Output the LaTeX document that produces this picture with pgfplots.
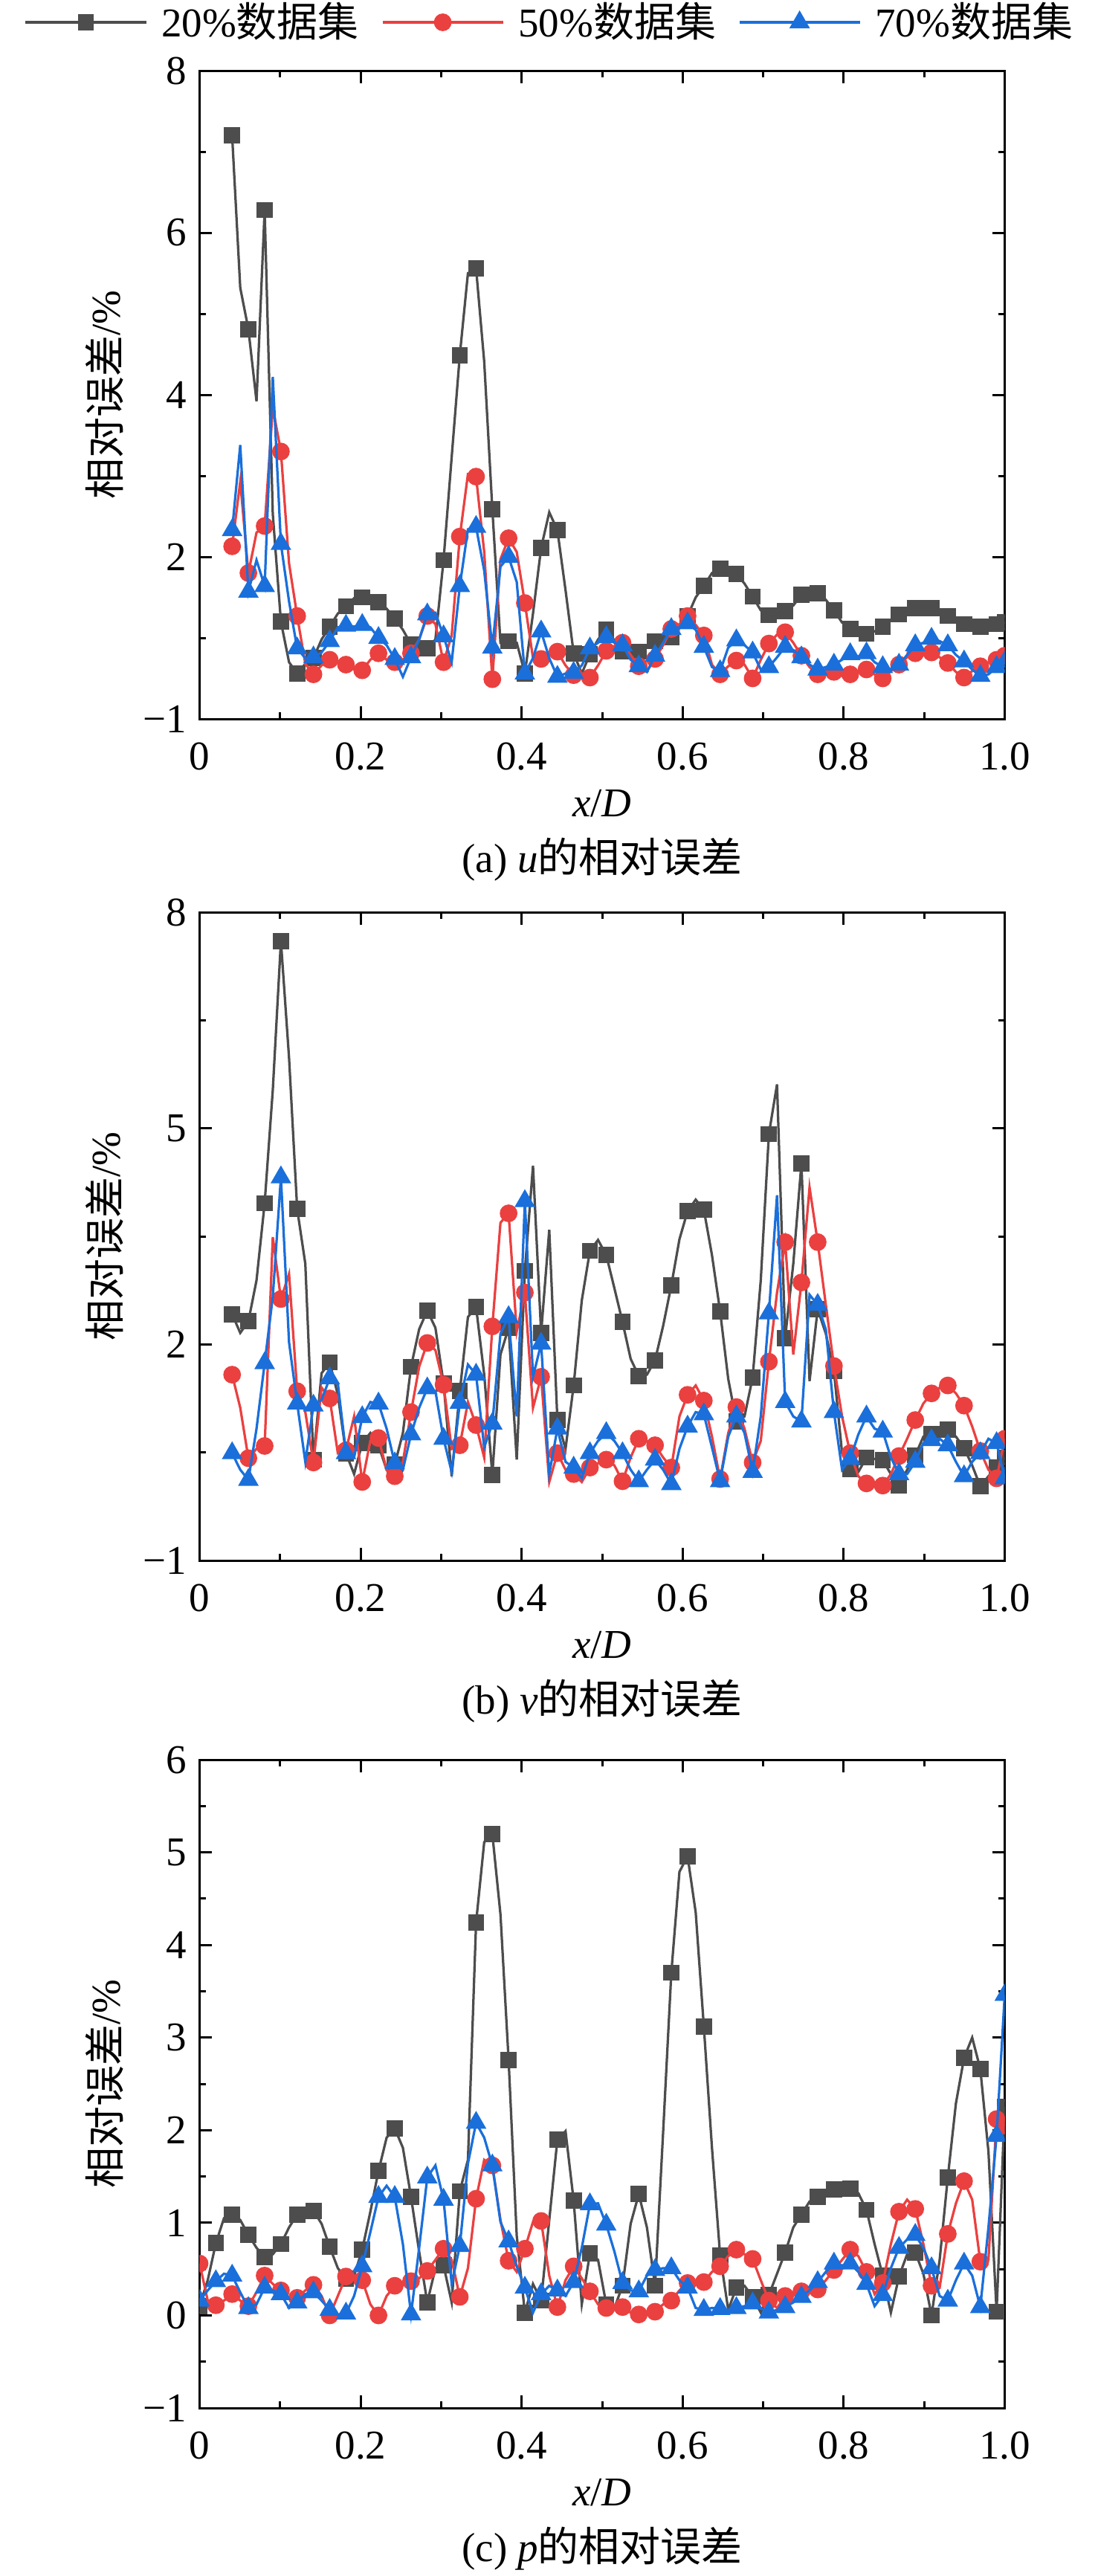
\documentclass[border=0pt]{standalone}
\usepackage{fontspec}
\setmainfont{Liberation Serif}
\newfontfamily\cjk{Noto Sans CJK SC}
\usepackage{pgfplots}
\pgfplotsset{compat=1.18}
\usepackage{pgfplotstable}

\definecolor{cg}{RGB}{77,77,77}
\definecolor{cr}{RGB}{235,64,64}
\definecolor{cb}{RGB}{26,111,219}
\newcommand{\myfont}{\fontsize{11}{13}\selectfont}
\newcommand{\tn}[1]{\textnormal{#1}}

% plot (a): u
\pgfplotstableread{
x g r b
0.0404 7.20 2.13 2.33
0.0505 5.32 2.93 3.38
0.0606 4.81 1.80 1.57
0.0707 3.92 2.30 1.96
0.0808 6.28 2.38 1.64
0.0909 2.53 3.84 4.22
0.1010 1.20 3.30 2.16
0.1111 0.70 1.92 1.45
0.1212 0.56 1.27 0.87
0.1313 0.68 0.68 0.75
0.1414 0.75 0.55 0.76
0.1515 0.98 0.66 0.82
0.1616 1.14 0.73 0.96
0.1717 1.30 0.70 1.13
0.1818 1.39 0.67 1.15
0.1919 1.49 0.61 1.14
0.2020 1.50 0.60 1.16
0.2121 1.48 0.73 1.13
0.2222 1.44 0.81 1.00
0.2323 1.36 0.73 0.91
0.2424 1.24 0.70 0.74
0.2525 1.10 0.73 0.52
0.2626 0.92 0.81 0.76
0.2727 0.91 0.98 0.98
0.2828 0.87 1.27 1.29
0.2929 0.98 1.17 1.31
0.3030 1.96 0.70 1.02
0.3131 3.23 1.03 0.70
0.3232 4.49 2.25 1.64
0.3333 5.50 3.02 2.34
0.3434 5.56 2.99 2.37
0.3535 4.41 2.06 1.83
0.3636 2.59 0.49 0.88
0.3737 0.94 1.97 1.88
0.3838 0.96 2.23 2.00
0.3939 0.94 2.06 1.69
0.4040 0.56 1.43 0.56
0.4141 1.30 0.75 0.75
0.4242 2.11 0.74 1.08
0.4343 2.55 0.82 0.75
0.4444 2.33 0.83 0.52
0.4545 1.59 0.66 0.56
0.4646 0.81 0.54 0.57
0.4747 0.56 0.56 0.66
0.4848 0.80 0.51 0.87
0.4949 0.98 0.66 0.94
0.5051 1.10 0.84 1.01
0.5152 0.97 0.90 0.94
0.5253 0.83 0.94 0.91
0.5354 0.83 0.79 0.73
0.5455 0.83 0.65 0.65
0.5556 0.90 0.59 0.58
0.5657 0.96 0.74 0.78
0.5758 0.98 0.91 0.94
0.5859 1.01 1.11 1.11
0.5960 1.12 1.17 1.13
0.6061 1.27 1.27 1.18
0.6162 1.50 1.16 1.10
0.6263 1.64 1.03 0.89
0.6364 1.80 0.67 0.64
0.6465 1.85 0.55 0.59
0.6566 1.86 0.65 0.88
0.6667 1.79 0.72 0.97
0.6768 1.67 0.67 0.91
0.6869 1.51 0.50 0.82
0.6970 1.34 0.73 0.61
0.7071 1.28 0.93 0.64
0.7172 1.28 1.04 0.76
0.7273 1.33 1.07 0.89
0.7374 1.40 0.94 0.85
0.7475 1.53 0.78 0.76
0.7576 1.57 0.64 0.67
0.7677 1.55 0.55 0.61
0.7778 1.47 0.58 0.64
0.7879 1.34 0.58 0.67
0.7980 1.19 0.53 0.73
0.8081 1.11 0.55 0.80
0.8182 1.07 0.59 0.77
0.8283 1.05 0.61 0.81
0.8384 1.08 0.55 0.70
0.8485 1.14 0.50 0.64
0.8586 1.22 0.59 0.61
0.8687 1.29 0.67 0.67
0.8788 1.34 0.76 0.79
0.8889 1.37 0.81 0.91
0.8990 1.38 0.84 0.94
0.9091 1.37 0.82 0.99
0.9192 1.32 0.76 0.96
0.9293 1.27 0.69 0.91
0.9394 1.21 0.58 0.79
0.9495 1.17 0.51 0.71
0.9596 1.15 0.59 0.61
0.9697 1.14 0.65 0.53
0.9798 1.14 0.70 0.55
0.9899 1.17 0.73 0.64
1.0000 1.19 0.78 0.70
}\dataA

% plot (b): v
\pgfplotstableread{
x g r b
0.0404 2.42 1.58 0.49
0.0505 2.16 1.12 0.26
0.0606 2.32 0.42 0.12
0.0707 2.89 0.55 0.83
0.0808 3.96 0.59 1.74
0.0909 5.53 3.49 2.66
0.1010 7.60 2.63 4.32
0.1111 5.98 2.98 2.03
0.1212 3.88 1.35 1.18
0.1313 3.12 1.06 0.37
0.1414 0.40 0.36 1.15
0.1515 1.60 1.40 1.23
0.1616 1.75 1.25 1.53
0.1717 1.30 0.49 1.46
0.1818 0.49 0.53 0.49
0.1919 0.20 1.00 0.43
0.2020 0.63 0.09 0.99
0.2121 0.77 0.66 1.20
0.2222 0.60 0.70 1.18
0.2323 0.26 0.26 0.83
0.2424 0.33 0.17 0.35
0.2525 0.77 0.37 0.26
0.2626 1.69 1.06 0.75
0.2727 2.21 1.69 1.12
0.2828 2.47 2.02 1.39
0.2929 2.23 1.92 1.35
0.3030 1.46 1.44 0.69
0.3131 0.17 0.55 0.23
0.3232 1.35 0.60 1.19
0.3333 2.38 1.20 1.72
0.3434 2.52 0.88 1.58
0.3535 1.58 0.43 0.57
0.3636 0.19 2.25 0.90
0.3737 1.86 3.69 2.15
0.3838 2.23 3.82 2.38
0.3939 0.40 2.18 1.00
0.4040 3.02 2.72 3.99
0.4141 4.48 1.12 1.55
0.4242 2.16 1.55 2.01
0.4343 3.59 0.09 0.20
0.4444 0.95 0.49 0.83
0.4545 0.55 0.26 0.37
0.4646 1.43 0.20 0.29
0.4747 2.61 0.09 0.14
0.4848 3.30 0.29 0.49
0.4949 3.45 0.35 0.66
0.5051 3.24 0.40 0.77
0.5152 2.78 0.32 0.66
0.5253 2.31 0.10 0.49
0.5354 1.80 0.43 0.26
0.5455 1.56 0.69 0.10
0.5556 1.58 0.66 0.26
0.5657 1.78 0.60 0.40
0.5758 2.26 0.43 0.26
0.5859 2.82 0.29 0.06
0.5960 3.46 1.00 0.55
0.6061 3.85 1.30 0.86
0.6162 4.01 1.43 1.06
0.6263 3.87 1.22 1.03
0.6364 3.24 0.72 0.57
0.6465 2.46 0.13 0.10
0.6566 1.52 0.77 0.72
0.6667 0.93 1.13 1.00
0.6768 1.00 0.83 0.77
0.6869 1.54 0.36 0.23
0.6970 2.89 0.66 1.00
0.7071 4.92 1.76 2.43
0.7172 5.61 2.72 4.07
0.7273 2.09 3.42 1.20
0.7374 3.12 1.86 1.00
0.7475 4.51 2.86 0.93
0.7576 1.49 4.18 2.69
0.7677 2.49 3.42 2.55
0.7778 2.15 2.55 2.21
0.7879 1.63 1.70 1.06
0.7980 0.49 1.00 0.26
0.8081 0.27 0.49 0.41
0.8182 0.23 0.17 0.75
0.8283 0.43 0.07 1.00
0.8384 0.41 0.03 0.83
0.8485 0.39 0.04 0.79
0.8586 0.20 0.20 0.43
0.8687 0.04 0.45 0.20
0.8788 0.26 0.69 0.20
0.8889 0.46 0.95 0.37
0.8990 0.72 1.18 0.63
0.9091 0.76 1.32 0.67
0.9192 0.77 1.40 0.69
0.9293 0.82 1.43 0.60
0.9394 0.72 1.32 0.37
0.9495 0.56 1.15 0.17
0.9596 0.32 0.86 0.37
0.9697 0.03 0.52 0.49
0.9798 0.17 0.26 0.69
0.9899 0.29 0.14 0.63
1.0000 0.43 0.69 0.14
}\dataB

% plot (c): p
\pgfplotstableread{
x g r b
0.0000 0.10 0.56 0.16
0.0101 0.38 0.16 0.27
0.0202 0.78 0.11 0.37
0.0303 1.05 0.16 0.45
0.0404 1.09 0.23 0.43
0.0505 1.03 0.16 0.25
0.0606 0.87 0.10 0.08
0.0707 0.73 0.25 0.12
0.0808 0.63 0.43 0.30
0.0909 0.66 0.34 0.27
0.1010 0.77 0.27 0.23
0.1111 0.95 0.19 0.08
0.1212 1.09 0.19 0.14
0.1313 1.14 0.27 0.23
0.1414 1.13 0.33 0.25
0.1515 0.99 0.21 0.16
0.1616 0.74 0.00 0.06
0.1717 0.51 0.21 0.01
0.1818 0.40 0.42 0.02
0.1919 0.43 0.43 0.21
0.2020 0.71 0.38 0.53
0.2121 1.12 0.12 0.90
0.2222 1.56 0.00 1.28
0.2323 1.92 0.21 1.40
0.2424 2.02 0.32 1.28
0.2525 1.81 0.36 0.77
0.2626 1.28 0.37 0.01
0.2727 0.69 0.40 0.73
0.2828 0.14 0.48 1.49
0.2929 0.51 0.60 1.62
0.3030 0.54 0.72 1.25
0.3131 0.14 0.60 0.34
0.3232 1.34 0.20 0.75
0.3333 1.68 0.51 1.64
0.3434 4.24 1.26 2.08
0.3535 5.11 1.68 1.92
0.3636 5.20 1.62 1.62
0.3737 4.33 1.03 1.01
0.3838 2.76 0.59 0.80
0.3939 0.86 0.47 0.53
0.4040 0.03 0.72 0.30
0.4141 0.34 1.01 0.03
0.4242 0.16 1.02 0.23
0.4343 1.03 0.43 0.32
0.4444 1.90 0.09 0.27
0.4545 1.99 0.38 0.21
0.4646 1.24 0.53 0.36
0.4747 0.12 0.40 0.73
0.4848 0.67 0.26 1.20
0.4949 0.60 0.12 1.21
0.5051 0.12 0.08 0.98
0.5152 0.08 0.10 0.69
0.5253 0.32 0.09 0.35
0.5354 0.99 0.03 0.27
0.5455 1.31 0.01 0.26
0.5556 0.95 0.03 0.43
0.5657 0.32 0.04 0.49
0.5758 1.99 0.12 0.51
0.5859 3.70 0.16 0.51
0.5960 4.79 0.27 0.38
0.6061 4.96 0.35 0.30
0.6162 4.35 0.36 0.08
0.6263 3.12 0.36 0.06
0.6364 1.81 0.47 0.08
0.6465 0.65 0.53 0.07
0.6566 0.06 0.64 0.06
0.6667 0.30 0.71 0.08
0.6768 0.32 0.66 0.10
0.6869 0.20 0.61 0.13
0.6970 0.03 0.38 0.08
0.7071 0.22 0.16 0.03
0.7172 0.45 0.08 0.06
0.7273 0.68 0.21 0.09
0.7374 0.95 0.23 0.14
0.7475 1.09 0.26 0.20
0.7576 1.23 0.24 0.27
0.7677 1.28 0.28 0.36
0.7778 1.34 0.38 0.47
0.7879 1.36 0.49 0.56
0.7980 1.37 0.60 0.54
0.8081 1.37 0.71 0.56
0.8182 1.32 0.64 0.47
0.8283 1.14 0.47 0.34
0.8384 0.77 0.23 0.10
0.8485 0.43 0.35 0.22
0.8586 0.03 0.77 0.51
0.8687 0.42 1.12 0.73
0.8788 0.66 1.25 0.82
0.8889 0.68 1.15 0.87
0.8990 0.45 0.77 0.73
0.9091 0.00 0.32 0.51
0.9192 0.60 0.30 0.21
0.9293 1.49 0.88 0.16
0.9394 2.29 1.21 0.38
0.9495 2.78 1.45 0.56
0.9596 3.00 1.25 0.43
0.9697 2.66 0.58 0.09
0.9798 1.77 0.60 0.95
0.9899 0.04 2.12 1.94
1.0000 2.25 2.05 3.46
}\dataC

\pgfplotsset{
  mAB/.style={mark indices={1,3,5,7,9,11,13,15,17,19,21,23,25,27,29,31,33,35,37,39,41,43,45,47,49,51,53,55,57,59,61,63,65,67,69,71,73,75,77,79,81,83,85,87,89,91,93,95,96}},
  mC/.style={mark indices={1,3,5,7,9,11,13,15,17,19,21,23,25,27,29,31,33,35,37,39,41,43,45,47,49,51,53,55,57,59,61,63,65,67,69,71,73,75,77,79,81,83,85,87,89,91,93,95,97,99,100}},
  sg/.style={color=cg, line width=0.65pt, mark=square*, mark size=1.85pt, mark options={solid, fill=cg, draw=none}},
  sr/.style={color=cr, line width=0.65pt, mark=*, mark size=2.05pt, mark options={solid, fill=cr, draw=none}},
  sb/.style={color=cb, line width=0.65pt, mark=triangle*, mark size=2.55pt, mark options={solid, fill=cb, draw=none}},
  myaxis/.style={
    scale only axis, width=216.6pt, height=174.4pt,
    xmin=0, xmax=1,
    xtick={0,0.2,0.4,0.6,0.8,1.0},
    xticklabels={\tn{0},\tn{0.2},\tn{0.4},\tn{0.6},\tn{0.8},\tn{1.0}},
    minor xtick={0.1,0.3,0.5,0.7,0.9},
    tick align=inside, tick pos=both,
    major tick length=3.4pt, minor tick length=1.8pt,
    every tick/.style={black, line width=0.6pt},
    every minor tick/.style={black, line width=0.6pt},
    axis line style={black, line width=0.6pt},
    every tick label/.append style={font=\myfont},
    every x tick label/.append style={anchor=center, yshift=-10.1pt},
    every axis x label/.style={at={(rel axis cs:0.5,0)}, anchor=center, yshift=-22.8pt, font=\myfont},
    every axis y label/.style={at={(rel axis cs:0,0.5)}, xshift=-25.5pt, rotate=90, anchor=center, font=\myfont},
    every axis title/.style={at={(rel axis cs:0.5,0)}, anchor=center, yshift=-37.8pt, font=\myfont},
    xlabel={\textit{x}/\textit{D}},
    ylabel={{\cjk 相对误差}/\%},
    clip marker paths=true,
  },
}

\begin{document}
\begin{tikzpicture}
\useasboundingbox (-53.7pt,0pt) rectangle (241.5pt,-693pt);

\begin{axis}[myaxis, at={(0pt,-193.4pt)}, anchor=south west,
  ymin=0, ymax=8, ytick={0,2,4,6,8}, yticklabels={\tn{−1},\tn{2},\tn{4},\tn{6},\tn{8}},
  minor ytick={1,3,5,7},
  title={(a) \textit{u}{\cjk 的相对误差}},
  legend columns=3,
  legend style={at={(0.4335,1.0746)}, anchor=center, draw=none, fill=none,
    font=\myfont, inner sep=0pt, outer sep=0pt, nodes={inner sep=0pt},
    /tikz/every even column/.append style={column sep=6pt},
    /tikz/every odd column/.append style={column sep=3.8pt}},
  legend image code/.code={\draw[#1, mark indices={2}] plot coordinates {(0pt,0pt) (16.2pt,0pt) (32.4pt,0pt)};},
]
\addplot[sg, mAB] table[x=x, y=g]{\dataA};
\addlegendentry{20\%{\cjk 数据集}}
\addplot[sr, mAB] table[x=x, y=r]{\dataA};
\addlegendentry{50\%{\cjk 数据集}}
\addplot[sb, mAB] table[x=x, y=b]{\dataA};
\addlegendentry{70\%{\cjk 数据集}}
\end{axis}

\begin{axis}[myaxis, at={(0pt,-419.8pt)}, anchor=south west,
  ymin=-1, ymax=8, ytick={-1,2,5,8}, yticklabels={\tn{−1},\tn{2},\tn{5},\tn{8}},
  minor ytick={0.5,3.5,6.5},
  title={(b) \textit{v}{\cjk 的相对误差}},
]
\addplot[sg, mAB] table[x=x, y=g]{\dataB};
\addplot[sr, mAB] table[x=x, y=r]{\dataB};
\addplot[sb, mAB] table[x=x, y=b]{\dataB};
\end{axis}

\begin{axis}[myaxis, at={(0pt,-647.8pt)}, anchor=south west,
  ymin=-1, ymax=6, ytick={-1,0,1,2,3,4,5,6}, yticklabels={\tn{−1},\tn{0},\tn{1},\tn{2},\tn{3},\tn{4},\tn{5},\tn{6}},
  minor ytick={-0.5,0.5,1.5,2.5,3.5,4.5,5.5},
  title={(c) \textit{p}{\cjk 的相对误差}},
]
\addplot[sg, mC] table[x=x, y=g]{\dataC};
\addplot[sr, mC] table[x=x, y=r]{\dataC};
\addplot[sb, mC] table[x=x, y=b]{\dataC};
\end{axis}
\end{tikzpicture}
\end{document}
